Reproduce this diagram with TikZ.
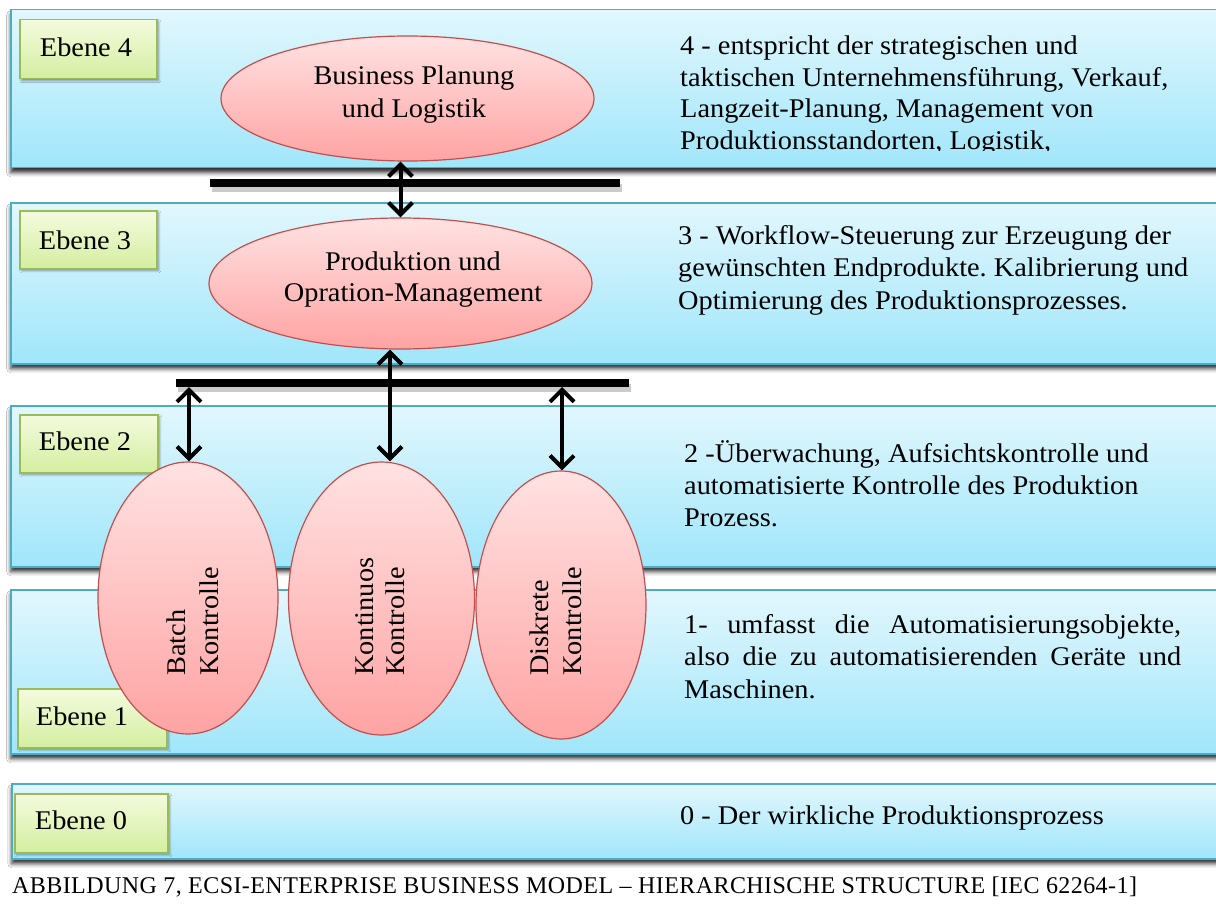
\documentclass[tikz,border=0pt]{standalone}
\usepackage{fontspec}
\setmainfont[FakeStretch=1.05]{Liberation Serif}
\newfontfamily\capfont[LetterSpace=1.8]{Liberation Serif}
\usetikzlibrary{shapes.geometric,arrows.meta,shadows.blur}
\frenchspacing

\definecolor{bandtop}{RGB}{226,247,253}
\definecolor{bandbot}{RGB}{160,230,250}
\definecolor{bandline}{RGB}{75,172,198}
\definecolor{ovaltop}{RGB}{255,226,226}
\definecolor{ovalbot}{RGB}{255,163,163}
\definecolor{ovalline}{RGB}{192,80,77}
\definecolor{lvltop}{RGB}{244,251,222}
\definecolor{lvlbot}{RGB}{212,238,160}
\definecolor{lvlline}{RGB}{155,187,89}

\tikzset{
  band/.style={draw=bandline, line width=1.5pt, top color=bandtop, bottom color=bandbot,
    rectangle, inner sep=0pt, anchor=north west,
    blur shadow={shadow xshift=0pt, shadow yshift=-5pt, shadow blur radius=4pt, shadow opacity=80}},
  lvlbox/.style={draw=lvlline, line width=1.5pt, top color=lvltop, bottom color=lvlbot,
    rectangle, inner sep=0pt, anchor=north west,
    blur shadow={shadow xshift=2pt, shadow yshift=-2pt, shadow blur radius=2pt, shadow opacity=40}},
  oval/.style={ellipse, draw=ovalline, line width=1.2pt, top color=ovaltop, bottom color=ovalbot, inner sep=0pt},
  txt/.style={inner sep=0pt, font=\fontsize{27}{32.5}\selectfont},
  bar/.style={line width=8pt, black},
  barshade/.style={line width=8pt, black!45, opacity=0.45},
  dbl/.style={line width=4pt, black, {Straight Barb[length=12pt,width=24pt]}-{Straight Barb[length=12pt,width=24pt]}},
}

\begin{document}
\begin{tikzpicture}[x=1pt,y=-1pt]
\useasboundingbox (0,0) rectangle (1216,923);
\clip (0,0) rectangle (1216,923);
\fill[white] (0,0) rectangle (1216,923);

% horizontal level bands
\node[band, minimum width=1222pt, minimum height=158pt] (band4) at (10,9) {};
\node[band, minimum width=1222pt, minimum height=161pt] (band3) at (10,202) {};
\node[band, minimum width=1222pt, minimum height=161pt] (band2) at (10,405) {};
\node[band, minimum width=1222pt, minimum height=164pt] (band1) at (10,589) {};
\node[band, minimum width=1222pt, minimum height=75pt] (band0) at (11,783) {};

% level tags
\node[lvlbox, minimum width=137pt, minimum height=59pt] (lv4) at (19,19) {};
\node[lvlbox, minimum width=137pt, minimum height=58pt] (lv3) at (19,210) {};
\node[lvlbox, minimum width=138pt, minimum height=58pt] (lv2) at (19,414) {};
\node[lvlbox, minimum width=149pt, minimum height=59pt] (lv1) at (17,688) {};
\node[lvlbox, minimum width=153pt, minimum height=59pt] (lv0) at (14,793) {};
\node[txt, anchor=base] (lv4t) at (86,57) {Ebene 4};
\node[txt, anchor=base] (lv3t) at (85,249) {Ebene 3};
\node[txt, anchor=base] (lv2t) at (85,450) {Ebene 2};
\node[txt, anchor=base] (lv1t) at (82,725) {Ebene 1};
\node[txt, anchor=base] (lv0t) at (81,829) {Ebene 0};

% level descriptions
\begin{scope}
\clip (600,10) rectangle (1216,151);
\node[txt, anchor=base west] (d4) at (680,55) {\parbox[t]{530pt}{\fontsize{27}{31.5}\selectfont
  4 - entspricht der strategischen und\\
  taktischen Unternehmensführung, Verkauf,\\
  Langzeit-Planung, Management von\\
  Produktionsstandorten, Logistik,}};
\end{scope}
\node[txt, anchor=base west] (d3) at (678,244) {\parbox[t]{530pt}{\fontsize{27}{32.5}\selectfont
  3 - Workflow-Steuerung zur Erzeugung der\\
  gewünschten Endprodukte. Kalibrierung und\\
  Optimierung des Produktionsprozesses.}};
\node[txt, anchor=base west] (d2) at (684,462) {\parbox[t]{530pt}{\fontsize{27}{32}\selectfont
  2 -Überwachung, Aufsichtskontrolle und\\
  automatisierte Kontrolle des Produktion\\
  Prozess.}};
\node[txt, anchor=base west] (d1) at (684,633) {\parbox[t]{497pt}{\fontsize{27}{32.5}\selectfont
  \makebox[497pt][s]{1- umfasst die Automatisierungsobjekte,}\\
  \makebox[497pt][s]{also die zu automatisierenden Geräte und}\\
  Maschinen.}};
\node[txt, anchor=base west] (d0) at (680,824) {0 - Der wirkliche Produktionsprozess};

% bus bars
\coordinate (b4w) at (210,183);
\coordinate (b4e) at (620,183);
\coordinate (b3w) at (176,383);
\coordinate (b3e) at (629,383);
\draw[barshade] ([shift={(2,5)}]b4w) -- ([shift={(2,5)}]b4e);
\draw[barshade] ([shift={(2,5)}]b3w) -- ([shift={(2,5)}]b3e);
\draw[bar] (b4w) -- (b4e);
\draw[bar] (b3w) -- (b3e);

% function ovals
\node[oval, minimum width=373pt, minimum height=125pt] (e4) at (407.5,98.5) {};
\node[oval, minimum width=383pt, minimum height=131pt] (e3) at (400.5,283.5) {};
\node[oval, minimum width=180pt, minimum height=272pt] (eb) at (188,598) {};
\node[oval, minimum width=186pt, minimum height=273pt] (ek) at (381.5,598.5) {};
\node[oval, minimum width=170pt, minimum height=268pt] (ed) at (561,605) {};

\node[txt, anchor=base] (e4t) at (414,85) {\parbox[t]{320pt}{\centering\fontsize{27}{33}\selectfont
  Business Planung\\und Logistik}};
\node[txt, anchor=base] (e3t) at (413,270) {\parbox[t]{340pt}{\centering\fontsize{27}{31.5}\selectfont
  Produktion und\\Opration-Management}};
\node[txt, rotate=90, anchor=west, align=left, font=\fontsize{27}{33}\selectfont] (ebt) at (192.5,676) {Batch\\Kontrolle};
\node[txt, rotate=90, anchor=west, align=left, font=\fontsize{27}{31}\selectfont] (ekt) at (380.5,676) {Kontinuos\\Kontrolle};
\node[txt, rotate=90, anchor=west, align=left, font=\fontsize{27}{33}\selectfont] (edt) at (556,676) {Diskrete\\Kontrolle};

% double-headed connectors
\draw[dbl] (e3.north |- e4.south) -- (e3.north);
\coordinate (mx) at (390,0);
\draw[dbl] (mx |- e3.south) -- (mx |- ek.north);
\coordinate (bl) at (189,387);
\draw[dbl] (bl) -- (bl |- eb.north);
\coordinate (br) at (562,387);
\draw[dbl] (br) -- (br |- ed.north);

% caption
\node[inner sep=0pt, anchor=base west, font=\capfont\fontsize{24}{28}\selectfont] (cap) at (12,893)
  {ABBILDUNG 7, ECSI-ENTERPRISE BUSINESS MODEL – HIERARCHISCHE STRUCTURE [IEC 62264-1]};
\end{tikzpicture}
\end{document}
